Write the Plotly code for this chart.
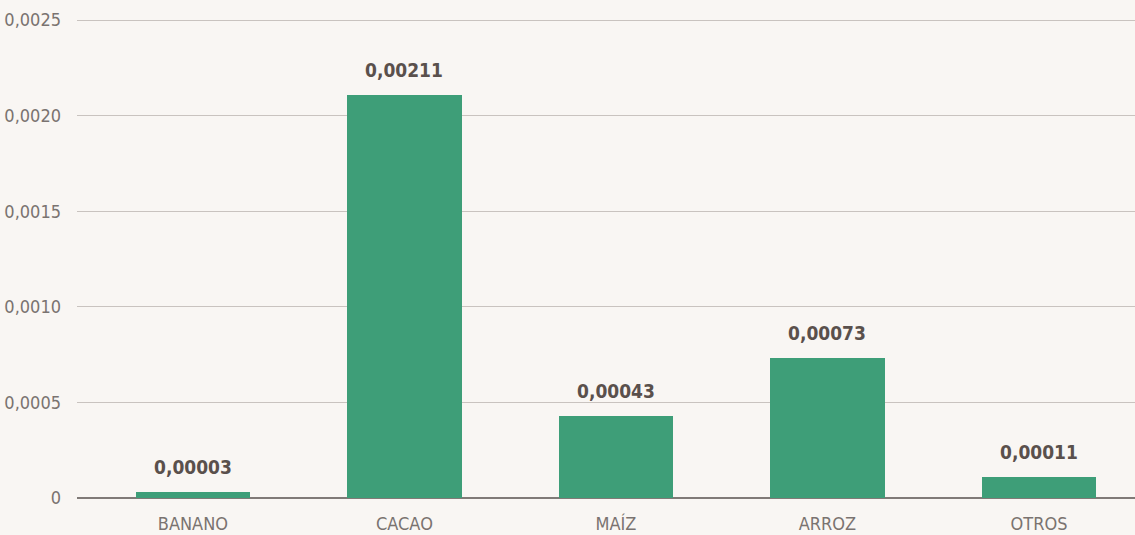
import plotly.graph_objects as go

categories = ["BANANO", "CACAO", "MAÍZ", "ARROZ", "OTROS"]
values = [0.00003, 0.00211, 0.00043, 0.00073, 0.00011]
y_ticks = [0, 0.0005, 0.0010, 0.0015, 0.0020, 0.0025]
y_tick_labels = ["0", "0,0005", "0,0010", "0,0015", "0,0020", "0,0025"]

FONT = "DejaVu Sans Condensed"
BG = "#f9f6f3"
BAR = "#3e9e78"

fig = go.Figure()
fig.add_trace(go.Bar(
    x=list(range(len(categories))),
    y=values,
    width=0.54,
    marker=dict(color=BAR, line=dict(width=0)),
    hoverinfo="skip",
))

for i, v in enumerate(values):
    fig.add_annotation(
        x=i, y=v, text=f"<b>{v:.5f}</b>".replace(".", ","),
        showarrow=False, yanchor="bottom", yshift=12,
        font=dict(family=FONT, size=19, color="#5a504c"),
    )

fig.update_layout(
    width=1135, height=535,
    margin=dict(l=77, r=0, t=16, b=37),
    paper_bgcolor=BG, plot_bgcolor=BG,
    showlegend=False,
    bargap=0,
    xaxis=dict(
        range=[-0.548, 4.454],
        tickvals=list(range(len(categories))),
        ticktext=categories,
        showgrid=False, zeroline=False, showline=False,
        ticks="", ticklabelstandoff=13,
        tickfont=dict(family=FONT, size=18, color="#7a7370"),
    ),
    yaxis=dict(
        range=[0, 0.0025209],
        tickvals=y_ticks, ticktext=y_tick_labels,
        showgrid=True, gridcolor="#c9c3bf", gridwidth=1,
        zeroline=True, zerolinecolor="#807a77", zerolinewidth=2,
        showline=False, ticks="", ticklabelstandoff=15,
        tickfont=dict(family=FONT, size=18, color="#7a7370"),
    ),
)

fig.write_html("out.html")
